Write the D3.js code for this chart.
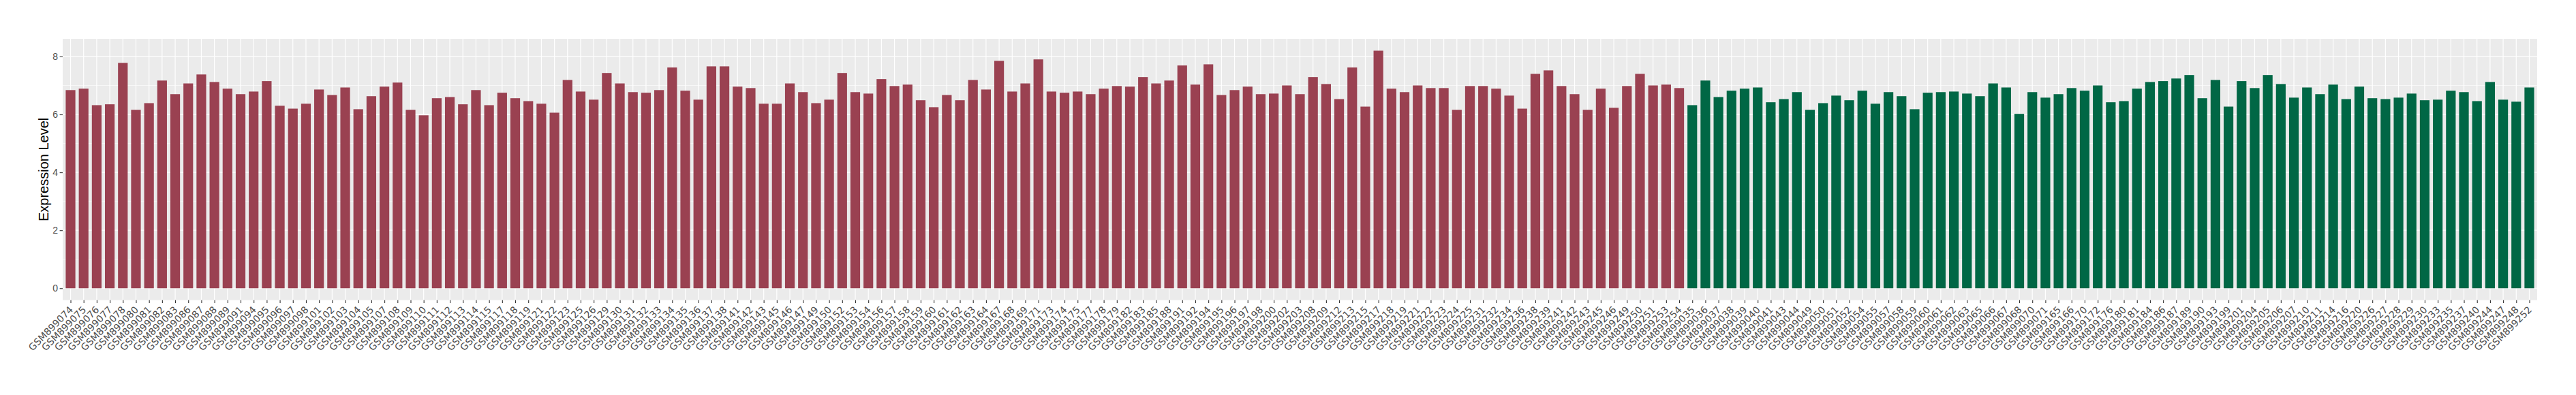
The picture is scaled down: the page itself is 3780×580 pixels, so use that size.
<!DOCTYPE html>
<html>
<head>
<meta charset="utf-8">
<script src="https://cdn.jsdelivr.net/npm/d3@7"></script>
<style>
  html, body { margin: 0; padding: 0; background: #fff; }
  svg { display: block; }
</style>
</head>
<body>
<svg id="chart" width="3780" height="580"></svg>
<script>
// ---------------- DATA ----------------
const groupAIds = [
  "074","075","076","077","078","080","081","082","083","086","087","088","089","091","094","095","096","097","098","101","102","103","104","105",
  "107","108","109","110","111","112","113","114","115","117","118","119","121","122","123","125","126","129","130","131","132","133","134","135",
  "136","137","138","141","142","143","145","146","147","149","150","152","153","154","156","157","158","159","160","161","162","163","164",
  "167","168","169","171","173","174","175","177","178","179","182","183","185","188","191","192","194","195","196","197","198","200","202","203",
  "208","209","212","213","215","217","218","219","221","222","223","224","225","231","232","234","236","238","239","241","242","243","245","246",
  "249","250","251","253","254"
];
const groupAValues = [
  6.84,6.89,6.32,6.35,7.78,6.16,6.39,7.17,6.70,7.07,7.38,7.12,6.89,6.70,6.79,7.15,6.30,6.20,6.37,6.86,6.67,6.93,6.18,6.63,
  6.96,7.10,6.16,5.97,6.56,6.60,6.35,6.84,6.32,6.75,6.56,6.46,6.37,6.06,7.19,6.79,6.51,7.43,7.07,6.77,6.75,6.84,7.62,6.82,
  6.51,7.66,7.66,6.96,6.91,6.37,6.37,7.07,6.77,6.39,6.51,7.43,6.77,6.72,7.22,6.98,7.03,6.49,6.25,6.67,6.49,7.19,6.86,
  7.85,6.79,7.07,7.90,6.79,6.75,6.79,6.70,6.89,6.98,6.96,7.29,7.07,7.17,7.69,7.03,7.73,6.67,6.84,6.96,6.70,6.72,7.00,6.70,
  7.29,7.05,6.53,7.62,6.27,8.20,6.89,6.77,7.00,6.91,6.91,6.16,6.98,6.98,6.89,6.65,6.20,7.40,7.52,6.98,6.70,6.16,6.89,6.23,
  6.98,7.40,7.00,7.03,6.91
];
const groupBIds = [
  "035","036","037","038","039","040","041","043","044","049","050","051","052","054","055","057","058","059",
  "060","061","062","063","065","066","067","068","070","071","165","166","170","172","176","180","181","184","186","187","189","190","193",
  "199","201","204","205","206","207","210","211","214","216","220","226","227","228","229","230","233","235","237","240","244","247","248","252"
];
const groupBValues = [
  6.32,7.17,6.60,6.82,6.89,6.93,6.42,6.53,6.77,6.16,6.39,6.65,6.49,6.82,6.37,6.77,6.63,6.18,
  6.75,6.77,6.79,6.72,6.63,7.07,6.93,6.02,6.77,6.58,6.70,6.91,6.82,7.00,6.42,6.46,6.89,7.12,7.15,7.24,7.36,6.56,7.19,
  6.27,7.15,6.91,7.36,7.05,6.58,6.93,6.70,7.03,6.53,6.96,6.56,6.53,6.58,6.72,6.49,6.51,6.82,6.77,6.46,7.12,6.51,6.44,6.93
];
const idPrefix = "GSM899";
const groupNames = ["A", "B"];
const groupColors = ["#9A4151", "#006745"];
const yMajorTicks = [0, 2, 4, 6, 8];
const yMinorTicks = [1, 3, 5, 7];
const yTitle = "Expression Level";

// ---------------- BUILD ----------------
const data = [
  ...groupAIds.map((id, i) => ({ sample: idPrefix + id, value: groupAValues[i], group: groupNames[0] })),
  ...groupBIds.map((id, i) => ({ sample: idPrefix + id, value: groupBValues[i], group: groupNames[1] }))
];

const panel = { left: 92, right: 3723, top: 57, bottom: 440.7 };
const svg = d3.select("#chart");

const x = d3.scalePoint()
  .domain(data.map(d => d.sample))
  .range([panel.left, panel.right])
  .padding(0.6);
const step = x.step();
const barW = step * 0.74;

const yMax = d3.max(data, d => d.value);
const y = d3.scaleLinear()
  .domain([-0.05 * yMax, yMax * 1.05])
  .range([panel.bottom, panel.top]);

const color = d3.scaleOrdinal().domain(groupNames).range(groupColors);

// panel background
svg.append("rect")
  .attr("x", panel.left).attr("y", panel.top)
  .attr("width", panel.right - panel.left).attr("height", panel.bottom - panel.top)
  .attr("fill", "#EBEBEB");

// minor grid
svg.append("g").selectAll("line").data(yMinorTicks).join("line")
  .attr("x1", panel.left).attr("x2", panel.right)
  .attr("y1", d => y(d)).attr("y2", d => y(d))
  .attr("stroke", "#fff").attr("stroke-width", 0.6);

// major grid
svg.append("g").selectAll("line").data(yMajorTicks).join("line")
  .attr("x1", panel.left).attr("x2", panel.right)
  .attr("y1", d => y(d)).attr("y2", d => y(d))
  .attr("stroke", "#fff").attr("stroke-width", 1.2);

svg.append("g").selectAll("line").data(x.domain()).join("line")
  .attr("x1", d => x(d)).attr("x2", d => x(d))
  .attr("y1", panel.top).attr("y2", panel.bottom)
  .attr("stroke", "#fff").attr("stroke-width", 1.2);

// bars
svg.append("g").selectAll("rect").data(data).join("rect")
  .attr("x", d => x(d.sample) - barW / 2)
  .attr("width", barW)
  .attr("y", d => y(d.value))
  .attr("height", d => y(0) - y(d.value))
  .attr("fill", d => color(d.group));

// y axis
const yAxis = svg.append("g")
  .attr("transform", `translate(${panel.left},0)`)
  .call(d3.axisLeft(y).tickValues(yMajorTicks).tickSize(4.4).tickPadding(2.5).tickFormat(d3.format("d")));
yAxis.select(".domain").remove();
yAxis.selectAll(".tick line").attr("stroke", "#333").attr("stroke-width", 1.1);
yAxis.selectAll(".tick text")
  .attr("fill", "#4D4D4D")
  .style("font-family", "'Liberation Sans', Arial, sans-serif")
  .style("font-size", "14px");

// x axis
const xAxis = svg.append("g")
  .attr("transform", `translate(0,${panel.bottom})`)
  .call(d3.axisBottom(x).tickSize(4.4).tickPadding(0));
xAxis.select(".domain").remove();
xAxis.selectAll(".tick line").attr("stroke", "#333").attr("stroke-width", 1.1);
xAxis.selectAll(".tick text")
  .attr("fill", "#4D4D4D")
  .attr("text-anchor", "end")
  .attr("dy", null)
  .attr("y", 0)
  .attr("transform", "translate(4,15) rotate(-45)")
  .style("font-family", "'DejaVu Sans', sans-serif")
  .style("font-size", "14px");

// y title
svg.append("text")
  .attr("transform", `translate(71,${(panel.top + panel.bottom) / 2}) rotate(-90)`)
  .attr("text-anchor", "middle")
  .attr("fill", "#000")
  .style("font-family", "'Liberation Sans', Arial, sans-serif")
  .style("font-size", "20px")
  .text(yTitle);
</script>
</body>
</html>
